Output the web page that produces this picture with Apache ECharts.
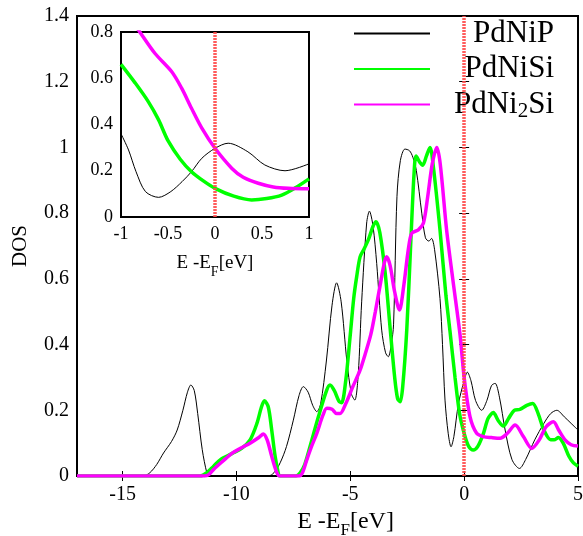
<!DOCTYPE html>
<html><head><meta charset="utf-8">
<script src="https://cdn.jsdelivr.net/npm/echarts@6/dist/echarts.min.js"></script>
<style>html,body{margin:0;padding:0;background:#fff}#c{width:583px;height:536px}</style>
</head><body><div id="c"></div>
<script>
// ---- data ----
const seriesNames = ['PdNiP', 'PdNiSi', 'PdNi2Si'];
const fermiLevel = 0;
const mainXTicks = [-15, -10, -5, 0, 5];

// main panel [E - E_F (eV), DOS]
const pdnipMain = [[-17,0],[-14.1,0],[-13.8,0.01],[-13.5,0.035],[-13.2,0.07],[-12.85,0.105],[-12.6,0.14],[-12.35,0.2],[-12.15,0.255],[-12.0,0.277],[-11.85,0.26],[-11.7,0.19],[-11.5,0.08],[-11.3,0.01],[-11.2,0],[-8.6,0],[-8.35,0.01],[-8.08,0.04],[-7.8,0.09],[-7.5,0.17],[-7.25,0.245],[-7.06,0.272],[-6.85,0.255],[-6.65,0.215],[-6.47,0.196],[-6.3,0.22],[-6.05,0.35],[-5.8,0.52],[-5.6,0.588],[-5.4,0.53],[-5.15,0.35],[-4.95,0.25],[-4.8,0.231],[-4.65,0.31],[-4.5,0.53],[-4.28,0.77],[-4.16,0.806],[-4.0,0.76],[-3.84,0.647],[-3.62,0.444],[-3.45,0.375],[-3.33,0.363],[-3.2,0.4],[-3.1,0.46],[-2.95,0.85],[-2.8,0.96],[-2.6,0.995],[-2.4,0.99],[-2.25,0.97],[-2.1,0.93],[-1.86,0.8],[-1.7,0.725],[-1.55,0.715],[-1.43,0.723],[-1.3,0.69],[-1.06,0.54],[-0.95,0.4],[-0.84,0.231],[-0.7,0.13],[-0.575,0.089],[-0.45,0.12],[-0.25,0.22],[0,0.29],[0.14,0.316],[0.3,0.29],[0.5,0.23],[0.77,0.2],[1.0,0.23],[1.2,0.275],[1.36,0.282],[1.55,0.24],[1.8,0.14],[2.1,0.05],[2.43,0.023],[2.7,0.05],[3.1,0.11],[3.5,0.16],[3.8,0.19],[4.07,0.2],[4.4,0.18],[4.7,0.16],[5.0,0.14]];
const pdnisiMain = [[-17,0],[-11.6,0],[-11.3,0.01],[-11.0,0.03],[-10.7,0.05],[-10.2,0.068],[-9.77,0.084],[-9.4,0.11],[-9.1,0.16],[-8.9,0.21],[-8.77,0.229],[-8.6,0.21],[-8.45,0.14],[-8.3,0.06],[-8.15,0.005],[-8.1,0],[-7.4,0],[-7.2,0.01],[-7.0,0.035],[-6.77,0.089],[-6.4,0.18],[-6.03,0.262],[-5.89,0.277],[-5.7,0.26],[-5.5,0.228],[-5.38,0.223],[-5.2,0.29],[-5.0,0.43],[-4.85,0.54],[-4.72,0.606],[-4.57,0.667],[-4.4,0.69],[-4.2,0.72],[-4.0,0.76],[-3.87,0.774],[-3.7,0.74],[-3.47,0.62],[-3.25,0.45],[-3.05,0.3],[-2.92,0.235],[-2.81,0.226],[-2.7,0.27],[-2.52,0.444],[-2.35,0.7],[-2.2,0.92],[-2.11,0.974],[-1.95,0.955],[-1.82,0.946],[-1.65,0.975],[-1.5,1.0],[-1.35,0.94],[-1.06,0.749],[-0.8,0.55],[-0.62,0.44],[-0.4,0.3],[-0.2,0.19],[0,0.13],[0.2,0.09],[0.4,0.079],[0.6,0.09],[0.85,0.13],[1.05,0.175],[1.28,0.193],[1.5,0.168],[1.72,0.152],[1.95,0.175],[2.2,0.2],[2.45,0.203],[2.75,0.215],[3.01,0.221],[3.25,0.19],[3.5,0.14],[3.8,0.11],[3.95,0.11],[4.14,0.117],[4.35,0.1],[4.6,0.06],[4.8,0.04],[5.0,0.03]];
const pdni2siMain = [[-17,0],[-11.4,0],[-11.2,0.005],[-11.0,0.02],[-10.6,0.045],[-10.2,0.069],[-9.8,0.085],[-9.4,0.1],[-9.0,0.118],[-8.82,0.128],[-8.65,0.11],[-8.45,0.06],[-8.25,0.015],[-8.1,0],[-7.25,0],[-7.1,0.01],[-6.91,0.049],[-6.7,0.09],[-6.47,0.13],[-6.2,0.185],[-6.03,0.206],[-5.8,0.203],[-5.6,0.19],[-5.45,0.19],[-5.2,0.22],[-4.9,0.27],[-4.57,0.322],[-4.35,0.37],[-4.1,0.43],[-3.9,0.5],[-3.69,0.58],[-3.5,0.65],[-3.4,0.667],[-3.25,0.64],[-3.05,0.56],[-2.84,0.505],[-2.65,0.58],[-2.45,0.69],[-2.3,0.739],[-2.01,0.749],[-1.79,0.769],[-1.6,0.85],[-1.4,0.95],[-1.2,1.0],[-1.05,0.95],[-0.77,0.749],[-0.5,0.6],[-0.18,0.43],[0,0.3],[0.26,0.18],[0.55,0.13],[0.84,0.12],[1.2,0.117],[1.58,0.115],[1.9,0.13],[2.24,0.155],[2.6,0.12],[2.97,0.084],[3.3,0.11],[3.6,0.15],[3.92,0.165],[4.15,0.14],[4.43,0.11],[4.7,0.095],[5.0,0.091]];

// inset panel (zoom near E_F)
const pdnipInset = [[-1,0.36],[-0.92,0.29],[-0.84,0.196],[-0.74,0.11],[-0.6,0.085],[-0.47,0.11],[-0.35,0.153],[-0.25,0.196],[-0.14,0.254],[0,0.297],[0.14,0.319],[0.35,0.282],[0.53,0.225],[0.745,0.2],[1,0.23]];
const pdnisiInset = [[-1,0.66],[-0.85,0.58],[-0.71,0.499],[-0.6,0.42],[-0.5,0.33],[-0.37,0.25],[-0.25,0.196],[-0.12,0.155],[0,0.124],[0.2,0.09],[0.39,0.074],[0.55,0.08],[0.71,0.095],[0.85,0.125],[1,0.165]];
const pdni2siInset = [[-0.9,0.86],[-0.8,0.8],[-0.64,0.708],[-0.46,0.628],[-0.355,0.557],[-0.25,0.47],[-0.14,0.384],[0,0.297],[0.18,0.21],[0.3,0.172],[0.46,0.146],[0.62,0.13],[0.78,0.124],[1,0.122]];

// ---- chart ----
const FONT = "'Liberation Serif', 'DejaVu Serif', serif";
const colors = ['#000000', '#00ff00', '#ff00ff'];
const widths = [1, 3.5, 3.5];
const mainData = [pdnipMain, pdnisiMain, pdni2siMain];
const insetData = [pdnipInset, pdnisiInset, pdni2siInset];

function makeFermiMark(z) {
  return {
    silent: true, symbol: ['none', 'none'], label: {show: false}, z: z,
    lineStyle: {color: '#ff4a4a', width: 3.5, type: [2, 1], opacity: 0.9},
    emphasis: {disabled: true},
    data: [{xAxis: fermiLevel}]
  };
}

const series = [];
seriesNames.forEach((n, i) => {
  series.push({
    name: n, type: 'line', xAxisIndex: 0, yAxisIndex: 0, data: mainData[i],
    symbol: 'none', smooth: 0.3, z: 3 + i,
    lineStyle: {color: colors[i], width: widths[i]}, itemStyle: {color: colors[i]},
    markLine: i === 0 ? makeFermiMark(6) : undefined
  });
});
seriesNames.forEach((n, i) => {
  series.push({
    name: n, type: 'line', xAxisIndex: 2, yAxisIndex: 2, data: insetData[i],
    symbol: 'none', smooth: 0.3, z: 13 + i, clip: true,
    lineStyle: {color: colors[i], width: widths[i]}, itemStyle: {color: colors[i]},
    markLine: i === 0 ? makeFermiMark(20) : undefined
  });
});

const nameRich = (fs, sfs, lh, pad) => ({
  b: {fontSize: fs, fontFamily: FONT, color: '#000', lineHeight: lh, verticalAlign: 'top'},
  sub: {fontSize: sfs, fontFamily: FONT, color: '#000', lineHeight: sfs, verticalAlign: 'top', padding: [pad, 0, 0, 0]}
});

const option = {
  animation: false,
  backgroundColor: '#ffffff',
  textStyle: {fontFamily: FONT, color: '#000'},
  grid: [
    {left: 77, right: 5, top: 16, bottom: 60, show: true, borderColor: '#000', borderWidth: 2,
      backgroundColor: 'transparent', z: 0, containLabel: false, outerBoundsMode: 'none'},
    {left: 121, top: 32, width: 188, height: 185, show: true, borderColor: '#000', borderWidth: 2,
      backgroundColor: '#ffffff', z: 10, containLabel: false, outerBoundsMode: 'none'}
  ],
  legend: {
    data: seriesNames, orient: 'vertical', left: 353, top: 18, padding: 0,
    itemWidth: 76, itemHeight: 35, itemGap: 4.5,
    selectedMode: false,
    itemStyle: {opacity: 0, borderWidth: 0},
    textStyle: {fontFamily: FONT, fontSize: 31, color: '#000', width: 119,
      rich: {
        r: {fontFamily: FONT, fontSize: 31, color: '#000', align: 'right', lineHeight: 35},
        s: {fontFamily: FONT, fontSize: 21, color: '#000', align: 'right', verticalAlign: 'bottom', lineHeight: 24}
      }},
    formatter: n => n === 'PdNi2Si' ? '{r|PdNi}{s|2}{r|Si}' : '{r|' + n + '}'
  },
  xAxis: [
    {gridIndex: 0, type: 'value', min: -17, max: 5, position: 'bottom',
      axisLine: {show: false}, splitLine: {show: false},
      axisTick: {show: true, inside: true, length: 5, customValues: mainXTicks, lineStyle: {color: '#000'}},
      axisLabel: {customValues: mainXTicks, fontSize: 20, color: '#000', margin: 9, fontFamily: FONT},
      name: '{b|E -E}{sub|F}{b|[eV]}', nameLocation: 'middle', nameGap: 31,
      nameTextStyle: {fontSize: 24, fontFamily: FONT, color: '#000', padding: [0, 0, 0, 36], rich: nameRich(24, 17, 26, 12)}},
    {gridIndex: 0, type: 'value', min: -17, max: 5, position: 'top',
      axisLine: {show: false}, splitLine: {show: false},
      axisTick: {show: true, inside: true, length: 5, customValues: mainXTicks, lineStyle: {color: '#000'}},
      axisLabel: {show: false, customValues: mainXTicks}},
    {gridIndex: 1, type: 'value', min: -1, max: 1, interval: 0.5,
      axisLine: {show: false}, axisTick: {show: false},
      splitLine: {show: true, lineStyle: {color: '#a8a8a8', width: 1}},
      axisLabel: {fontSize: 18, color: '#000', margin: 8, fontFamily: FONT},
      name: '{b|E -E}{sub|F}{b|[eV]}', nameLocation: 'middle', nameGap: 37,
      nameTextStyle: {fontSize: 19, fontFamily: FONT, color: '#000', rich: nameRich(19, 14, 21, 11)}}
  ],
  yAxis: [
    {gridIndex: 0, type: 'value', min: 0, max: 1.4, interval: 0.2,
      axisLine: {show: false}, splitLine: {show: false},
      axisTick: {show: true, inside: true, length: 5, lineStyle: {color: '#000'}},
      axisLabel: {fontSize: 20, color: '#000', margin: 8, fontFamily: FONT},
      name: 'DOS', nameLocation: 'middle', nameGap: 46,
      nameTextStyle: {fontSize: 21, fontFamily: FONT, color: '#000'}},
    {gridIndex: 0, type: 'value', min: 0, max: 1.4, interval: 0.2, position: 'right',
      axisLine: {show: false}, splitLine: {show: false},
      axisTick: {show: true, inside: true, length: 5, lineStyle: {color: '#000'}},
      axisLabel: {show: false}},
    {gridIndex: 1, type: 'value', min: 0, max: 0.8, interval: 0.2,
      axisLine: {show: false}, axisTick: {show: false},
      splitLine: {show: true, lineStyle: {color: '#a8a8a8', width: 1}},
      axisLabel: {fontSize: 18, color: '#000', margin: 8, fontFamily: FONT}}
  ],
  series: series
};

const chart = echarts.init(document.getElementById('c'), null, {renderer: 'canvas'});
chart.setOption(option);
</script>
</body></html>
